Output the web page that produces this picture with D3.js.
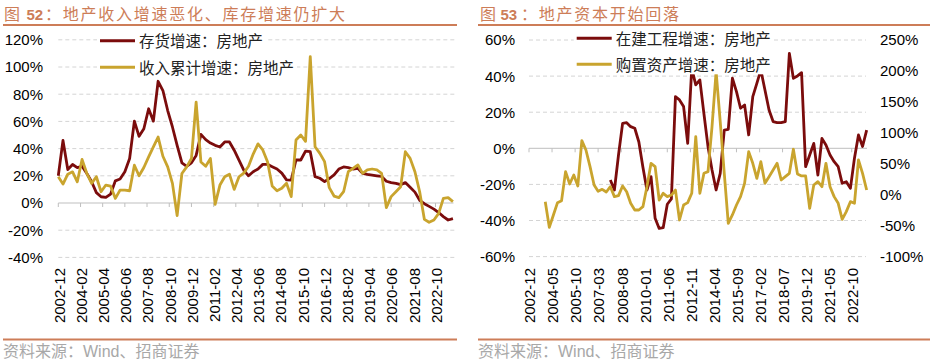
<!DOCTYPE html>
<html lang="zh-CN">
<head>
<meta charset="UTF-8">
<title>地产收入增速与地产资本</title>
<script src="https://d3js.org/d3.v7.min.js"></script>
<style>
  body { margin: 0; background: #fff; }
  svg { display: block; }
  .num { font-family: "Liberation Sans", Arial, sans-serif; font-size: 15px; fill: #000; }
  .cn { font-family: "Liberation Sans", "Noto Sans CJK SC", sans-serif; }
  .grid { stroke: #d4d4d4; stroke-dasharray: 4,3; }
</style>
</head>
<body>
<script>
// quarterly data, first point 2002-12
var inventoryGrowth = [20, 46, 24.6, 28.3, 26, 27, 21.7, 15.6, 7.6, 4.6, 4.1, 6.6, 16.3, 17.6, 23, 32.7,
    60.2, 49, 54.6, 69.3, 60.2, 89.5, 82.7, 68, 55.9, 42.4, 29.5, 27, 29.5, 35, 50.5, 46.6,
    44.1, 42.4, 41.2, 44.9, 44.9, 38.8, 31.5, 24.1, 20, 23, 25, 28.4, 28.4, 26.7, 25, 22,
    17, 16.8, 31.6, 31.6, 38.2, 37.7, 19.4, 18.2, 15.7, 18, 20.6, 25, 26.5, 26, 25, 25.5,
    21.8, 21, 20.5, 20, 19.5, 16, 15, 14.5, 13.5, 15, 11.5, 8, 2, -0.5, -2.5, -4.5,
    -7, -10, -12.5, -11.5];
var revenueGrowth = [19.3, 13.9, 21.2, 22.9, 15.6, 32, 21.7, 14.4, 19.3, 8.3, 13.2, 12.4, 3.4, 9.5, 9.5, 9,
    27.8, 20, 26.1, 33.9, 41.2, 48.5, 34.4, 26.6, 14.4, -9.3, 21.7, 26.6, 32.7, 74.1, 30.2, 27,
    32.7, -1, 13.2, 19.3, 21.2, 10, 19.3, 22, 27, 36, 43.5, 39, 30.4, 12.5, 9, 10.8,
    14.5, 4.7, 46.3, 50, 45.3, 107.6, 41.4, 36.5, 30.4, 11.3, 5.1, 3.9, 8.3, 23, 25.5, 28,
    21.8, 24.3, 25, 24.3, 21.8, -3.4, 4.7, 8.3, 12, 37.7, 32.8, 23, 8.3, -12, -14.2, -12.5,
    -7.6, 3.4, 3.9, 1];

// first point 2007-12 (left axis)
var cipGrowth = [-17.6, -23.1, -3.7, 13.8, 14.2, 12, 11.1, 3.5, -10.5, -23.1,
    -15.7, -38.8, -44.4, -44, -31, -28, 28.6, 26.8, 23.1, 2.8,
    44.3, 35.1, 37.9, 19, 0.9, -12, -23.1, -13.9, 10.1, 10.5,
    38.8, 31.4, 22.2, 24, 7.4, 28.6, 36, 43.4, 32.3, 21.2,
    14.8, 14.2, 14.2, 14.8, 52.6, 38.8, 40.1, 41.9, -10.2, -3.7,
    2.7, -14.8, 5.5, 1.8, -3.7, -7.4, -10.2, -19.4, -18.5, -22.2,
    -5.5, 7.4, 1, 10.1];
// first point 2003-12 (right axis)
var purchaseGrowth = [-11.1, -52.6, -32.6, -12.7, -9.5, 37.4, 17.4, 32, 14.2, 87.5,
    72.4, 45.4, 15.8, 5.6, 8.8, 4.5, 13.1, -3, -1.4, 14.2,
    5, -13.8, -24.6, -24.6, -19.2, 13.1, 50.8, 45.4, -8.4, 2.4,
    -3, -0.4, 7.7, -40.7, -16.5, -12.7, 2.4, 93.9, 2.4, 34.7,
    37.4, 110, 198.9, 118, 34.7, -46, -32.6, -16.5, -3, 18.5,
    69.7, 50.8, 26.6, 53.5, 18.5, 29.3, 40, 50.8, 23.9, 29.3,
    34.7, 73.5, 33.6, 30.4, 30.4, -21.9, 15.8, 21.2, 13.1, 50.8,
    13.1, -3, -13.8, -39.6, -27.2, -11.1, -13.8, 56.2, 34.7, 7.7];

var leftTicks = ["2002-12", "2004-02", "2005-04", "2006-06", "2007-08", "2008-10", "2009-12", "2011-02", "2012-04",
    "2013-06", "2014-08", "2015-10", "2016-12", "2018-02", "2019-04", "2020-06", "2021-08", "2022-10"];
var rightTicks = ["2002-12", "2004-05", "2005-10", "2007-03", "2008-08", "2010-01", "2011-06", "2012-11",
    "2014-04", "2015-09", "2017-02", "2018-07", "2019-12", "2021-05", "2022-10"];
var leftY = [-40, -20, 0, 20, 40, 60, 80, 100, 120];
var rightYL = [-60, -40, -20, 0, 20, 40, 60];
var rightYR = [-100, -50, 0, 50, 100, 150, 200, 250];

var seriesNames = ["存货增速：房地产", "收入累计增速：房地产", "在建工程增速：房地产", "购置资产增速：房地产"];

var RED = "#7b0c0c", GOLD = "#c9a42e", ACCENT = "#cd7d58";

var parseMonth = d3.timeParse("%Y-%m");
var first = parseMonth("2002-12");
var last = parseMonth("2023-10");
function qDate(i) { return d3.timeMonth.offset(first, 3 * i); }

var svg = d3.select("body").append("svg").attr("width", 935).attr("height", 363);

function frame(x0, x1, tx, num, rest, numX, restX) {
    svg.append("rect").attr("x", x0).attr("y", 24).attr("width", x1 - x0).attr("height", 2).attr("fill", ACCENT);
    svg.append("rect").attr("x", x0).attr("y", 338.5).attr("width", x1 - x0).attr("height", 2).attr("fill", ACCENT);
    var t = svg.append("g").attr("fill", ACCENT);
    t.append("text").attr("class", "cn").attr("x", tx).attr("y", 19.5).style("font-size", "16px").text("图");
    t.append("text").attr("x", numX).attr("y", 19.5)
        .style("font-family", "Liberation Sans, Arial, sans-serif").style("font-size", "15px").style("font-weight", "bold")
        .text(num);
    t.append("text").attr("class", "cn").attr("x", restX).attr("y", 19.5)
        .style("font-size", "16px").style("letter-spacing", "1.75px").text(rest);
    svg.append("text").attr("class", "cn").attr("x", x0).attr("y", 357)
        .style("font-size", "16px").attr("fill", "#a8a8a8").text("资料来源：Wind、招商证券");
}

function xAxis(x, ticks, y0) {
    var dates = ticks.map(parseMonth);
    var g = svg.append("g");
    g.append("line").attr("x1", x.range()[0]).attr("x2", x.range()[1] - 1).attr("y1", y0).attr("y2", y0)
        .attr("stroke", "#bfbfbf");
    g.selectAll(".tk").data(dates).enter().append("line")
        .attr("x1", function (d) { return x(d); }).attr("x2", function (d) { return x(d); })
        .attr("y1", y0).attr("y2", y0 + 4).attr("stroke", "#bfbfbf");
    g.selectAll(".lb").data(dates).enter().append("text")
        .attr("class", "num")
        .attr("text-anchor", "end")
        .attr("dy", "0.42em")
        .attr("transform", function (d) { return "translate(" + x(d) + ",268) rotate(-90)"; })
        .text(d3.timeFormat("%Y-%m"));
}

function grid(x, y, vals, xEnd) {
    svg.append("g").selectAll("line").data(vals.filter(function (v) { return v !== 0; })).enter()
        .append("line").attr("class", "grid")
        .attr("x1", x.range()[0]).attr("x2", xEnd)
        .attr("y1", function (v) { return y(v); }).attr("y2", function (v) { return y(v); });
}

function yLabels(y, vals, lx, anchor) {
    svg.append("g").selectAll("text").data(vals).enter().append("text")
        .attr("class", "num").attr("x", lx).attr("y", function (v) { return y(v); })
        .attr("dy", "0.36em").attr("text-anchor", anchor)
        .text(function (v) { return v + "%"; });
}

function series(x, y, data, start, color) {
    var line = d3.line()
        .x(function (d, i) { return x(qDate(start + i)); })
        .y(function (d) { return y(d); });
    svg.append("path").datum(data).attr("d", line)
        .attr("fill", "none").attr("stroke", color).attr("stroke-width", 2.8)
        .attr("stroke-linejoin", "round");
}

function legend(items, lx, rows) {
    items.forEach(function (it, i) {
        var g = svg.append("g");
        var bg = g.append("rect").attr("fill", "#fff");
        g.append("line").attr("x1", lx).attr("x2", lx + 35).attr("y1", rows[i]).attr("y2", rows[i])
            .attr("stroke", it.color).attr("stroke-width", 3);
        var t = g.append("text").attr("class", "cn").attr("x", lx + 39).attr("y", rows[i] + 6.2)
            .style("font-size", "15.5px").attr("fill", "#222").text(it.name);
        var w = t.node().getComputedTextLength();
        bg.attr("x", lx - 3).attr("y", rows[i] - 10).attr("width", w + 45).attr("height", 20);
    });
}

// ---- left chart ----
frame(3, 457, 4, "52", "：地产收入增速恶化、库存增速仍扩大", 26.5, 45);
var xL = d3.scaleTime().domain([first, last]).range([58.3, 454.5]);
var yL = d3.scaleLinear().domain([-40, 120]).range([257.4, 39.8]);
grid(xL, yL, leftY, 455);
yLabels(yL, leftY, 43, "end");
xAxis(xL, leftTicks, yL(0));
series(xL, yL, inventoryGrowth, 0, RED);
series(xL, yL, revenueGrowth, 0, GOLD);
legend([{ name: seriesNames[0], color: RED }, { name: seriesNames[1], color: GOLD }], 100, [40.7, 67.3]);

// ---- right chart ----
frame(478, 930, 480, "53", "：地产资本开始回落", 500.5, 521);
var xR = d3.scaleTime().domain([first, last]).range([529, 868]);
var yRL = d3.scaleLinear().domain([-60, 60]).range([256.6, 40]);
var yRR = d3.scaleLinear().domain([-100, 250]).range([256.7, 40]);
grid(xR, yRL, rightYL, 866);
yLabels(yRL, rightYL, 515, "end");
yLabels(yRR, rightYR, 880, "start");
xAxis(xR, rightTicks, yRL(0));
series(xR, yRL, cipGrowth, 20, RED);
series(xR, yRR, purchaseGrowth, 4, GOLD);
legend([{ name: seriesNames[2], color: RED }, { name: seriesNames[3], color: GOLD }], 576.7, [38.3, 64.3]);
</script>
</body>
</html>
